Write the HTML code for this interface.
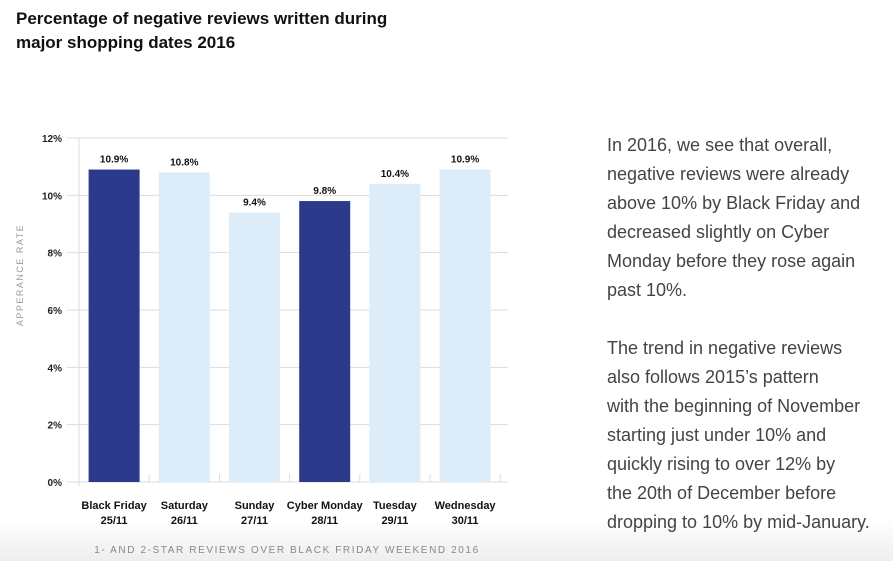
<!DOCTYPE html>
<html><head><meta charset="utf-8"><style>
body{margin:0;width:893px;height:561px;overflow:hidden;font-family:"Liberation Sans",sans-serif;background:linear-gradient(#fff 0,#fff 520px,#eee 561px);position:relative}
#title{position:absolute;left:16px;top:7px;font-size:17px;font-weight:bold;line-height:24px;color:#111}
#text{position:absolute;left:607px;top:131px;font-size:18px;line-height:29px;color:#444}
#text p{margin:0 0 29px 0}
</style></head><body>
<div id="title">Percentage of negative reviews written during<br>major shopping dates 2016</div>
<svg id="chart" width="893" height="561" style="position:absolute;left:0;top:0"></svg>
<div id="text"><p>In 2016, we see that overall,<br>negative reviews were already<br>above 10% by Black Friday and<br>decreased slightly on Cyber<br>Monday before they rose again<br>past 10%.</p><p>The trend in negative reviews<br>also follows 2015’s pattern<br>with the beginning of November<br>starting just under 10% and<br>quickly rising to over 12% by<br>the 20th of December before<br>dropping to 10% by mid-January.</p></div>
<script>
const categories=["Black Friday","Saturday","Sunday","Cyber Monday","Tuesday","Wednesday"];
const dates=["25/11","26/11","27/11","28/11","29/11","30/11"];
const values=[10.9,10.8,9.4,9.8,10.4,10.9];
const highlight=[true,false,false,true,false,false];
const yTicks=[0,2,4,6,8,10,12];
const NS="http://www.w3.org/2000/svg";
const svg=document.getElementById('chart');
const x0=79,step=70.2,bw=51,yBase=482,yTop=138,yMax=12;
const y=v=>yBase-(v/yMax)*(yBase-yTop);
const xc=i=>x0+step*(i+0.5);
function mk(t,a,txt){const e=document.createElementNS(NS,t);for(const k in a)e.setAttribute(k,a[k]);if(txt!=null)e.textContent=txt;svg.appendChild(e);return e;}
yTicks.forEach(t=>{
 const l=mk('line',{x1:67,x2:508,y1:y(t),y2:y(t),stroke:'#ddd','stroke-width':1});
 
 
 const tx=mk('text',{x:62,y:y(t)+4,'text-anchor':'end','font-size':10,'font-weight':'bold',fill:'#222'},t+'%');
 
 
});
const ax=mk('line',{x1:x0,x2:x0,y1:yTop,y2:yBase+4,stroke:'#ddd'});


for(let i=1;i<=categories.length;i++){
 const tk=mk('line',{x1:x0+step*i,x2:x0+step*i,y1:yBase-8,y2:yBase,stroke:'#ddd'});
 
 
}
const yt=mk('text',{transform:'translate(23,275) rotate(-90)','text-anchor':'middle','font-size':9,'letter-spacing':1.5,fill:'#999'},'APPERANCE RATE');


values.forEach((v,i)=>{
 const r=mk('rect',{x:xc(i)-bw/2,y:y(v),width:bw,height:yBase-y(v),fill:highlight[i]?'#2b3a8a':'#dcedf9'});
 
 
 const lb=mk('text',{x:xc(i),y:y(v)-7,'text-anchor':'middle','font-size':10,'font-weight':'bold',fill:'#111'},v.toFixed(1)+'%');
 
 
 const c1=mk('text',{x:xc(i),y:509,'text-anchor':'middle','font-size':11,'font-weight':'bold',fill:'#111'},categories[i]);
 
 
 const c2=mk('text',{x:xc(i),y:524,'text-anchor':'middle','font-size':11,'font-weight':'bold',fill:'#111'},dates[i]);
 
 
});
const cap=mk('text',{x:287,y:553,'text-anchor':'middle','font-size':10,'letter-spacing':1.6,fill:'#888'},'1- AND 2-STAR REVIEWS OVER BLACK FRIDAY WEEKEND 2016');


</script>
</body></html>
